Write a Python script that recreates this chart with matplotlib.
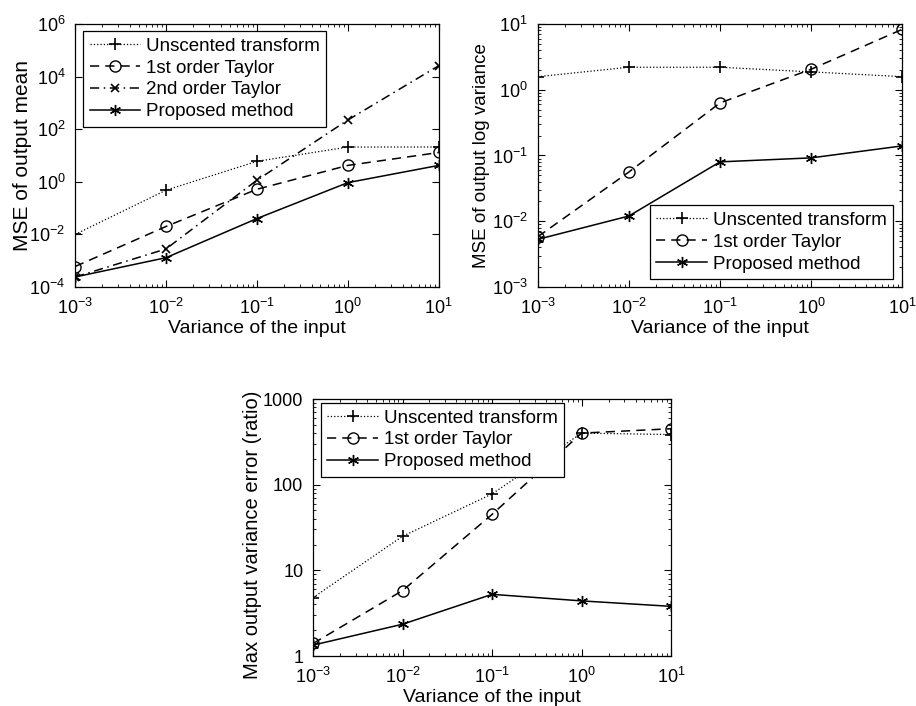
import numpy as np
import matplotlib
matplotlib.use('Agg')
import matplotlib.pyplot as plt
from matplotlib.ticker import LogLocator, NullLocator, FixedLocator, NullFormatter, ScalarFormatter

plt.rcParams['font.family'] = ['Liberation Sans', 'DejaVu Sans']
plt.rcParams['mathtext.fontset'] = 'custom'
plt.rcParams['mathtext.rm'] = 'Liberation Sans'
plt.rcParams['mathtext.it'] = 'Liberation Sans'
plt.rcParams['mathtext.default'] = 'regular'
plt.rcParams['font.size'] = 12

# input variances
x = [1e-3, 1e-2, 1e-1, 1e0, 1e1]

# panel 1: MSE of output mean
mean_ut = [0.01, 0.48, 6.0, 21.0, 21.0]
mean_t1 = [6e-4, 0.02, 0.52, 4.2, 13.0]
mean_t2 = [2.4e-4, 2.8e-3, 1.15, 224.0, 2.6e4]
mean_prop = [2.4e-4, 1.3e-3, 0.04, 0.93, 4.2]

# panel 2: MSE of output log variance
logv_ut = [1.58, 2.2, 2.2, 1.87, 1.58]
logv_t1 = [5.8e-3, 0.056, 0.63, 2.05, 8.3]
logv_prop = [5.3e-3, 0.012, 0.08, 0.092, 0.14]

# panel 3: max output variance error (ratio)
ratio_ut = [4.8, 25.0, 78.0, 400.0, 385.0]
ratio_t1 = [1.4, 5.8, 45.0, 400.0, 450.0]
ratio_prop = [1.34, 2.35, 5.25, 4.4, 3.8]

labels = ['Unscented transform', '1st order Taylor', '2nd order Taylor', 'Proposed method']

asterisk = (6, 2, 0)
styles = {
    'ut': dict(ls=':', lw=0.9, marker='+', ms=8, mew=1.2),
    't1': dict(ls=(0, (6, 4)), lw=1.1, marker='o', ms=8, mfc='none', mew=1.0),
    't2': dict(ls=(0, (6, 3, 1, 3)), lw=1.1, marker='x', ms=6, mew=1.2),
    'prop': dict(ls='-', lw=1.1, marker=asterisk, ms=8, mew=1.0),
}


def style_axes(ax, ylabel, ylim, ysize, ylab_x, ylab_y=0.5):
    ax.set_xscale('log')
    ax.set_yscale('log')
    ax.set_xlim(1e-3, 1e1)
    ax.set_ylim(*ylim)
    ax.set_ylabel(ylabel, fontsize=ysize)
    ax.yaxis.set_label_coords(ylab_x, ylab_y)
    ax.set_xlabel('Variance of the input', fontsize=14, labelpad=1)
    ax.set_xticks(x)
    ax.xaxis.set_minor_locator(LogLocator(base=10, subs=np.arange(2, 10), numticks=100))
    ax.xaxis.set_minor_formatter(NullFormatter())
    ax.yaxis.set_minor_locator(LogLocator(base=10, subs=np.arange(2, 10), numticks=100))
    ax.yaxis.set_minor_formatter(NullFormatter())
    ax.tick_params(which='both', direction='in', top=True, right=True, labelsize=13)
    ax.tick_params(which='major', length=5, width=0.8)
    ax.tick_params(which='minor', length=2.5, width=0.6)
    ax.tick_params(axis='x', which='major', pad=8)
    ax.tick_params(axis='y', which='major', pad=7)
    for s in ax.spines.values():
        s.set_linewidth(0.9)


def add_legend(ax, loc, anchor):
    leg = ax.legend(loc=loc, bbox_to_anchor=anchor, fancybox=False, edgecolor='k',
                    framealpha=1, handlelength=2.7, handletextpad=0.3, borderpad=0.35,
                    borderaxespad=0, labelspacing=0.25, fontsize=13.5)
    leg.get_frame().set_linewidth(0.9)


fig = plt.figure(figsize=(9.16, 7.06), dpi=100)

# top left
ax1 = fig.add_axes([0.082, 0.5935, 0.397, 0.3725])
ax1.plot(x, mean_ut, color='k', label=labels[0], **styles['ut'])
ax1.plot(x, mean_t1, color='k', label=labels[1], **styles['t1'])
ax1.plot(x, mean_t2, color='k', label=labels[2], **styles['t2'])
ax1.plot(x, mean_prop, color='k', label=labels[3], **styles['prop'])
style_axes(ax1, 'MSE of output mean', (1e-4, 1e6), 15, -0.118)
ax1.yaxis.set_major_locator(FixedLocator([1e-4, 1e-2, 1e0, 1e2, 1e4, 1e6]))
ax1.yaxis.set_minor_locator(NullLocator())
add_legend(ax1, 'upper left', (0.022, 0.973))

# top right
ax2 = fig.add_axes([0.587, 0.5935, 0.398, 0.3725])
ax2.plot(x, logv_ut, color='k', label=labels[0], **styles['ut'])
ax2.plot(x, logv_t1, color='k', label=labels[1], **styles['t1'])
ax2.plot(x, logv_prop, color='k', label=labels[3], **styles['prop'])
style_axes(ax2, 'MSE of output log variance', (1e-3, 1e1), 13.5, -0.131)
add_legend(ax2, 'lower right', (0.975, 0.03))

# bottom
ax3 = fig.add_axes([0.3417, 0.0708, 0.391, 0.364])
ax3.plot(x, ratio_ut, color='k', label=labels[0], **styles['ut'])
ax3.plot(x, ratio_t1, color='k', label=labels[1], **styles['t1'])
ax3.plot(x, ratio_prop, color='k', label=labels[3], **styles['prop'])
style_axes(ax3, 'Max output variance error (ratio)', (1, 1000), 14.5, -0.142, 0.47)
ax3.yaxis.set_major_locator(FixedLocator([1, 10, 100, 1000]))
ax3.yaxis.set_major_formatter(ScalarFormatter())
add_legend(ax3, 'upper left', (0.022, 0.985))

fig.savefig('out.png', dpi=100)
